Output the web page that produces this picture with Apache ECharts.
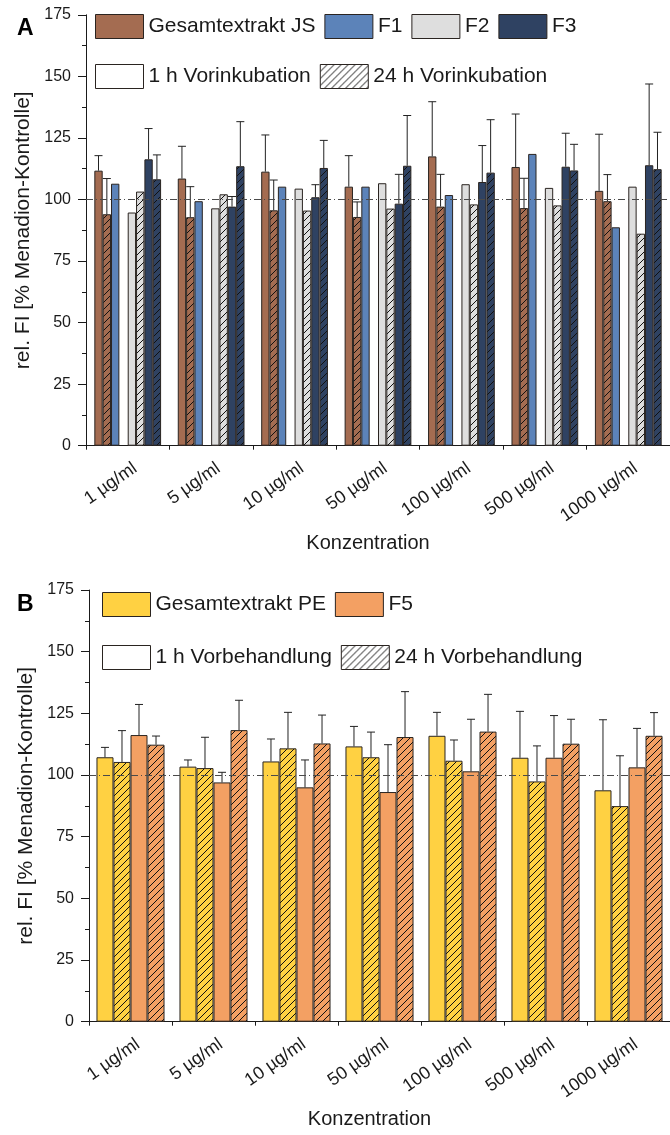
<!DOCTYPE html>
<html>
<head>
<meta charset="utf-8">
<script src="https://cdn.jsdelivr.net/npm/echarts@6/dist/echarts.min.js"></script>
<style>
  html, body { margin: 0; padding: 0; background: #fff; }
  #chart { width: 670px; height: 1135px; }
</style>
</head>
<body>
<div id="chart"></div>
<script>
// Concentrations tested
const categories = ['1 µg/ml', '5 µg/ml', '10 µg/ml', '50 µg/ml', '100 µg/ml', '500 µg/ml', '1000 µg/ml'];
// y axis tick values (% of menadione control)
const yTicks = [0, 25, 50, 75, 100, 125, 150, 175];
const referenceLevel = [100];

// Panel A – Jatropha extract and fractions (1 h / 24 h pre-incubation)
const jsH1 = [111.7, 108.5, 111.3, 105.2, 117.5, 113.2, 103.5];
const jsH1Sd = [6.1, 13.1, 14.9, 12.6, 22.2, 21.5, 23.0];
const jsH24 = [94.0, 92.8, 95.6, 92.9, 97.1, 96.5, 99.3];
const jsH24Sd = [14.5, 12.4, 12.3, 6.1, 13.1, 12.1, 10.8];
const f1H1 = [106.4, 99.3, 105.2, 105.2, 101.8, 118.5, 88.7];
const f1H24 = [null, null, null, null, null, null, null];
const f2H1 = [94.7, 96.4, 104.4, 106.6, 106.2, 104.7, 105.2];
const f2H24 = [103.2, 102.1, 95.5, 96.3, 98.0, 97.6, 86.1];
const f3H1 = [116.3, 97.1, 100.9, 98.3, 107.1, 113.3, 113.9];
const f3H1Sd = [12.5, 4.1, 5.1, 11.9, 14.8, 13.6, 33.0];
const f3H24 = [108.2, 113.5, 112.8, 113.7, 110.9, 111.8, 112.3];
const f3H24Sd = [9.9, 18.1, 11.2, 20.4, 21.5, 10.6, 15.0];

// Panel B – PE extract and fraction F5 (1 h / 24 h pre-treatment)
const peH1 = [107.2, 103.4, 105.5, 111.6, 115.9, 107.0, 93.8];
const peH1Sd = [4.0, 2.7, 9.1, 8.1, 9.5, 18.8, 28.6];
const peH24 = [105.3, 102.8, 110.8, 107.2, 105.8, 97.4, 87.4];
const peH24Sd = [12.7, 12.5, 14.6, 10.2, 8.4, 14.4, 20.4];
const f5H1 = [116.2, 97.0, 95.0, 93.1, 101.5, 107.0, 103.1];
const f5H1Sd = [12.4, 4.1, 11.1, 19.2, 21.1, 17.1, 15.8];
const f5H24 = [112.3, 118.2, 112.8, 115.4, 117.6, 112.7, 115.9];
const f5H24Sd = [3.5, 12.1, 11.5, 18.4, 15.1, 9.9, 9.4];

const FONT = "'Liberation Sans', Arial, sans-serif";
const INK = '#1a1a1a';
const COLORS = {
  js: '#A46C51', f1: '#5C83B9', f2: '#DEDEDE', f3: '#2F4262',
  pe: '#FFD142', f5: '#F3A063', white: '#FFFFFF'
};

// Diagonal "/" hatching on top of a base fill colour
function hatch(base) {
  const s = 7;
  const c = document.createElement('canvas');
  c.width = s; c.height = s;
  const g = c.getContext('2d');
  g.fillStyle = base;
  g.fillRect(0, 0, s, s);
  g.strokeStyle = '#111';
  g.lineWidth = 1;
  g.beginPath();
  g.moveTo(-1, s + 1); g.lineTo(s + 1, -1);
  g.moveTo(-1, 1); g.lineTo(1, -1);
  g.moveTo(s - 1, s + 1); g.lineTo(s + 1, s - 1);
  g.stroke();
  return { image: c, repeat: 'repeat' };
}

const panels = [
  {
    grid: { left: 86, top: 14.8, width: 591.5, height: 430.9 },
    barFrac: 0.1,
    legendLeft: 95,
    legendTops: [14, 64],
    timeLegend: ['1 h Vorinkubation', '24 h Vorinkubation'],
    bars: [
      { name: 'Gesamtextrakt JS', data: jsH1, sd: jsH1Sd, color: COLORS.js, hatched: false },
      { name: 'Gesamtextrakt JS', data: jsH24, sd: jsH24Sd, color: COLORS.js, hatched: true },
      { name: 'F1', data: f1H1, sd: null, color: COLORS.f1, hatched: false },
      { name: 'F1', data: f1H24, sd: null, color: COLORS.f1, hatched: true },
      { name: 'F2', data: f2H1, sd: null, color: COLORS.f2, hatched: false },
      { name: 'F2', data: f2H24, sd: null, color: COLORS.f2, hatched: true },
      { name: 'F3', data: f3H1, sd: f3H1Sd, color: COLORS.f3, hatched: false },
      { name: 'F3', data: f3H24, sd: f3H24Sd, color: COLORS.f3, hatched: true }
    ],
    groupLegend: ['Gesamtextrakt JS', 'F1', 'F2', 'F3'],
    label: 'A', labelTop: 17
  },
  {
    grid: { left: 89, top: 590, width: 591.5, height: 431.7 },
    barFrac: 0.205,
    legendLeft: 102,
    legendTops: [592, 645],
    timeLegend: ['1 h Vorbehandlung', '24 h Vorbehandlung'],
    bars: [
      { name: 'Gesamtextrakt PE', data: peH1, sd: peH1Sd, color: COLORS.pe, hatched: false },
      { name: 'Gesamtextrakt PE', data: peH24, sd: peH24Sd, color: COLORS.pe, hatched: true },
      { name: 'F5', data: f5H1, sd: f5H1Sd, color: COLORS.f5, hatched: false },
      { name: 'F5', data: f5H24, sd: f5H24Sd, color: COLORS.f5, hatched: true }
    ],
    groupLegend: ['Gesamtextrakt PE', 'F5'],
    label: 'B', labelTop: 593
  }
];

const option = {
  animation: false,
  backgroundColor: '#fff',
  textStyle: { fontFamily: FONT, color: INK },
  grid: [], xAxis: [], yAxis: [], legend: [], series: [], graphic: []
};

panels.forEach((p, gi) => {
  option.grid.push(p.grid);

  // main category axis: ticks at the category centres
  option.xAxis.push({
    type: 'category', gridIndex: gi, data: categories, position: 'bottom',
    name: 'Konzentration', nameLocation: 'middle', nameGap: 88,
    nameTextStyle: { fontSize: 20, color: INK, fontFamily: FONT, padding: [0, 20, 0, 0] },
    axisLine: { lineStyle: { color: INK, width: 1 } },
    axisTick: { alignWithLabel: true, length: 8, lineStyle: { color: INK } },
    axisLabel: {
      rotate: 35, fontSize: 18, color: INK, fontFamily: FONT,
      margin: 26, padding: [0, -9, 0, 0], interval: 0
    },
    splitLine: { show: false }
  });
  // companion axis: short ticks on the category boundaries
  option.xAxis.push({
    type: 'category', gridIndex: gi, data: categories, position: 'bottom', offset: 0,
    axisLine: { show: false },
    axisTick: { show: true, length: 4, interval: 0, lineStyle: { color: INK } },
    axisLabel: { show: false },
    splitLine: { show: false }
  });

  option.yAxis.push({
    type: 'value', gridIndex: gi,
    min: yTicks[0], max: yTicks[yTicks.length - 1], interval: yTicks[1] - yTicks[0],
    name: 'rel. FI [% Menadion-Kontrolle]', nameLocation: 'middle', nameGap: 52,
    nameTextStyle: { fontSize: 21, color: INK, fontFamily: FONT },
    axisLine: { show: true, lineStyle: { color: INK, width: 1 } },
    axisTick: { show: true, length: 8, lineStyle: { color: INK } },
    minorTick: { show: true, splitNumber: 2, length: 4, lineStyle: { color: INK } },
    axisLabel: { fontSize: 16, color: INK, fontFamily: FONT, margin: 15 },
    splitLine: { show: false }, minorSplitLine: { show: false }
  });

  const xMain = gi * 2, xAux = gi * 2 + 1;
  const n = p.bars.length;
  const errData = [];

  p.bars.forEach((b, si) => {
    const s = {
      type: 'bar', name: b.name, xAxisIndex: xMain, yAxisIndex: gi,
      data: b.data.map(v => (v == null ? '-' : v)),
      barWidth: (p.barFrac * 100) + '%', barGap: '0%',
      itemStyle: {
        color: b.hatched ? hatch(b.color) : b.color,
        borderColor: '#2a2420', borderWidth: 1
      },
      emphasis: { disabled: true },
      z: 2
    };
    if (si === n - 1) {
      s.markLine = {
        silent: true, symbol: 'none', label: { show: false },
        lineStyle: { type: [7, 3, 1, 3], color: '#4a4a4a', width: 1 },
        data: referenceLevel.map(v => ({ yAxis: v })),
        z: 5
      };
    }
    option.series.push(s);
    if (b.sd) {
      b.data.forEach((v, ci) => {
        if (v != null && b.sd[ci] != null) errData.push([ci, v, b.sd[ci], si]);
      });
    }
  });

  // upper error bars (mean + SD), placed on each bar's slot within the group
  option.series.push({
    type: 'custom', xAxisIndex: xMain, yAxisIndex: gi, z: 4, silent: true,
    data: errData,
    encode: { x: 0, y: 1 },
    renderItem: function (params, api) {
      const ci = api.value(0), v = api.value(1), sd = api.value(2), slot = api.value(3);
      const catW = api.size([1, 0])[0];
      const bw = catW * p.barFrac;
      const base = api.coord([ci, v]);
      const top = api.coord([ci, v + sd]);
      const x = base[0] + (slot - (n - 1) / 2) * bw;
      const half = 4;
      const st = { stroke: '#222', lineWidth: 1 };
      return {
        type: 'group',
        children: [
          { type: 'line', shape: { x1: x, y1: base[1], x2: x, y2: top[1] }, style: st },
          { type: 'line', shape: { x1: x - half, y1: top[1], x2: x + half, y2: top[1] }, style: st }
        ]
      };
    }
  });

  // legend-only entries for the pre-incubation times
  option.series.push({
    type: 'bar', name: p.timeLegend[0], xAxisIndex: xAux, yAxisIndex: gi, data: [],
    itemStyle: { color: COLORS.white, borderColor: '#2a2420', borderWidth: 1 }
  });
  option.series.push({
    type: 'bar', name: p.timeLegend[1], xAxisIndex: xAux, yAxisIndex: gi, data: [],
    itemStyle: { color: hatch(COLORS.white), borderColor: '#2a2420', borderWidth: 1 }
  });

  const legendBase = {
    orient: 'horizontal', left: p.legendLeft, icon: 'rect',
    itemWidth: 48, itemHeight: 24, itemGap: 9, padding: 0,
    selectedMode: false,
    textStyle: { fontSize: 21, color: INK, fontFamily: FONT },
    itemStyle: { borderColor: '#2a2420', borderWidth: 1 }
  };
  option.legend.push(Object.assign({}, legendBase, { top: p.legendTops[0], data: p.groupLegend }));
  option.legend.push(Object.assign({}, legendBase, { top: p.legendTops[1], data: p.timeLegend }));

  option.graphic.push({
    type: 'text', left: 17, top: p.labelTop,
    style: { text: p.label, font: 'bold 23px ' + FONT, fill: '#000' }
  });
});

const chart = echarts.init(document.getElementById('chart'), null, { renderer: 'canvas' });
chart.setOption(option);
</script>
</body>
</html>
